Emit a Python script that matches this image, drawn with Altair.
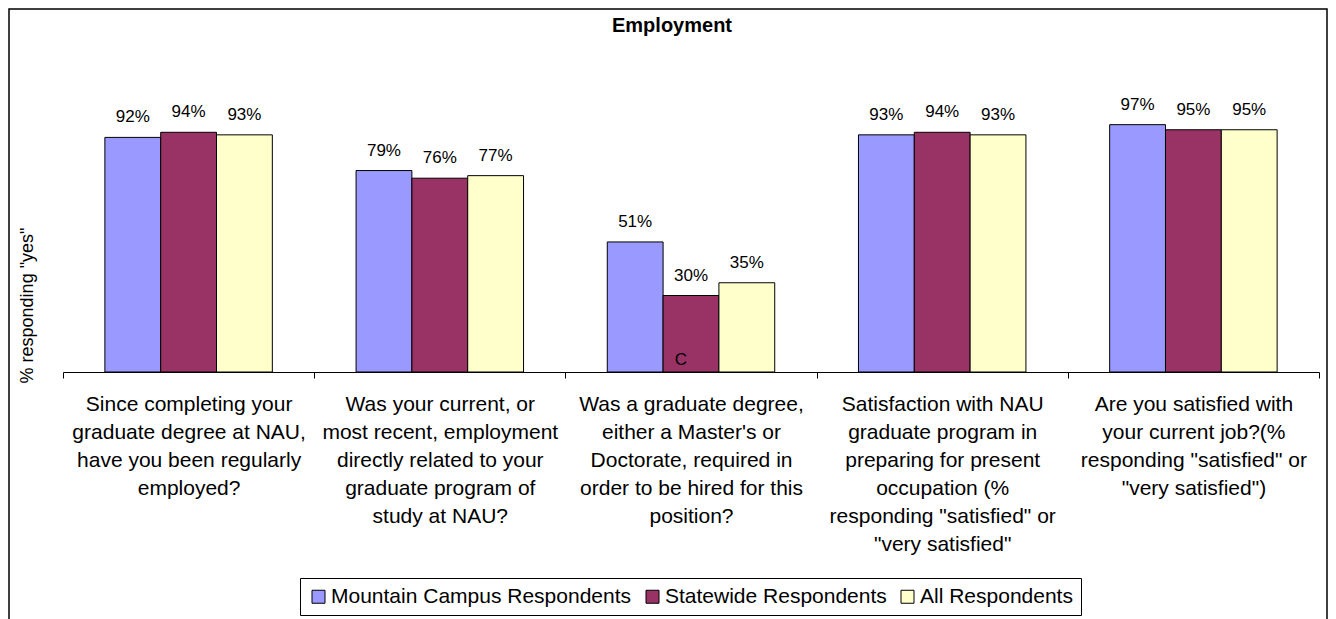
import altair as alt
import pandas as pd

FONT = "Liberation Sans, Arial, sans-serif"

categories = [
    "Since completing your|graduate degree at NAU,|have you been regularly|employed?",
    "Was your current, or|most recent, employment|directly related to your|graduate program of|study at NAU?",
    "Was a graduate degree,|either a Master's or|Doctorate, required in|order to be hired for this|position?",
    "Satisfaction with NAU|graduate program in|preparing for present|occupation (%|responding \"satisfied\" or|\"very satisfied\"",
    "Are you satisfied with|your current job?(%|responding \"satisfied\" or|\"very satisfied\")",
]
series = ["Mountain Campus Respondents", "Statewide Respondents", "All Respondents"]
mountain = [92, 79, 51, 93, 97]
statewide = [94, 76, 30, 94, 95]
all_resp = [93, 77, 35, 93, 95]
colors = ["#9999FF", "#993366", "#FFFFCC"]

# stray letter visible in the original picture
annot_category = [categories[2]]
annot_series = ["Statewide Respondents"]
annot_text = ["C"]

rows = []
for s, vals in zip(series, [mountain, statewide, all_resp]):
    for c, v in zip(categories, vals):
        rows.append({"category": c, "series": s, "value": v, "label": f"{v}%"})
df = pd.DataFrame(rows)

annot = pd.DataFrame({"category": annot_category, "series": annot_series,
                      "value": [0] * len(annot_text), "label": annot_text})

x_enc = alt.X(
    "category:N", sort=categories,
    scale=alt.Scale(paddingInner=0, paddingOuter=0),
    axis=alt.Axis(
        title=None, labelExpr="split(datum.label, '|')", labelAngle=0,
        tickBand="extent", tickSize=6, tickColor="black", domainColor="black",
        labelPadding=15, labelFontSize=21, labelLineHeight=28, labelFont=FONT,
        labelColor="black", labelBaseline="top", labelLimit=400, labelOverlap=False,
        grid=False,
    ),
)
xoff_enc = alt.XOffset("series:N", sort=series,
                       scale=alt.Scale(paddingOuter=0.75, paddingInner=0))
y_enc = alt.Y(
    "value:Q",
    scale=alt.Scale(domain=[0, 100], nice=False),
    axis=alt.Axis(
        title='% responding "yes"', labels=False, ticks=False, domain=False, grid=False,
        titleX=-36, titleY=188, titleAngle=270, titleAlign="center",
        titleBaseline="middle", titleFontSize=18, titleFontWeight="normal",
        titleFont=FONT, titleColor="black",
    ),
)

base = alt.Chart(df)

bars = base.mark_bar(stroke="black", strokeWidth=1).encode(
    x=x_enc, xOffset=xoff_enc, y=y_enc,
    color=alt.Color(
        "series:N", sort=series,
        scale=alt.Scale(domain=series, range=colors),
        legend=alt.Legend(
            title=None, orient="none", legendX=237, legendY=461,
            direction="horizontal", strokeColor="black", padding=8,
            fillColor="white", labelFontSize=21, labelFont=FONT, labelColor="black",
            symbolType="square", symbolSize=169, symbolStrokeColor="black",
            symbolStrokeWidth=1, symbolOpacity=1, labelOffset=2, columnPadding=10,
            labelLimit=500,
        ),
    ),
)

labels = base.mark_text(baseline="alphabetic", dy=-15, fontSize=17, font=FONT,
                        color="black").encode(
    x=alt.X("category:N", sort=categories), xOffset=alt.XOffset("series:N", sort=series),
    y="value:Q", text="label:N",
)

stray = alt.Chart(annot).mark_text(baseline="alphabetic", dx=-10, dy=-7, fontSize=17,
                                   font=FONT, color="black").encode(
    x=alt.X("category:N", sort=categories), xOffset=alt.XOffset("series:N", sort=series),
    y="value:Q", text="label:N",
)

frame = alt.Chart(pd.DataFrame({"k": [0]})).mark_rect(
    fillOpacity=0, stroke="black", strokeWidth=1.5
).encode(x=alt.value(-54), x2=alt.value(1264), y=alt.value(-108), y2=alt.value(700))

chart = alt.layer(frame, bars, labels, stray).properties(
    width=1256, height=255,
    autosize=alt.AutoSizeParams(type="none"),
    padding={"left": 55, "top": 109, "right": 9, "bottom": 247},
    title=alt.TitleParams(
        "Employment", fontSize=20, fontWeight="bold", font=FONT, color="black",
        anchor="middle", frame="group", offset=-43.75, dx=-19, baseline="alphabetic",
    ),
).configure(
    font=FONT, background="white", view=alt.ViewConfig(strokeWidth=0, stroke=None)
)

chart.save("out.html", embed_options={"renderer": "svg", "actions": False})
